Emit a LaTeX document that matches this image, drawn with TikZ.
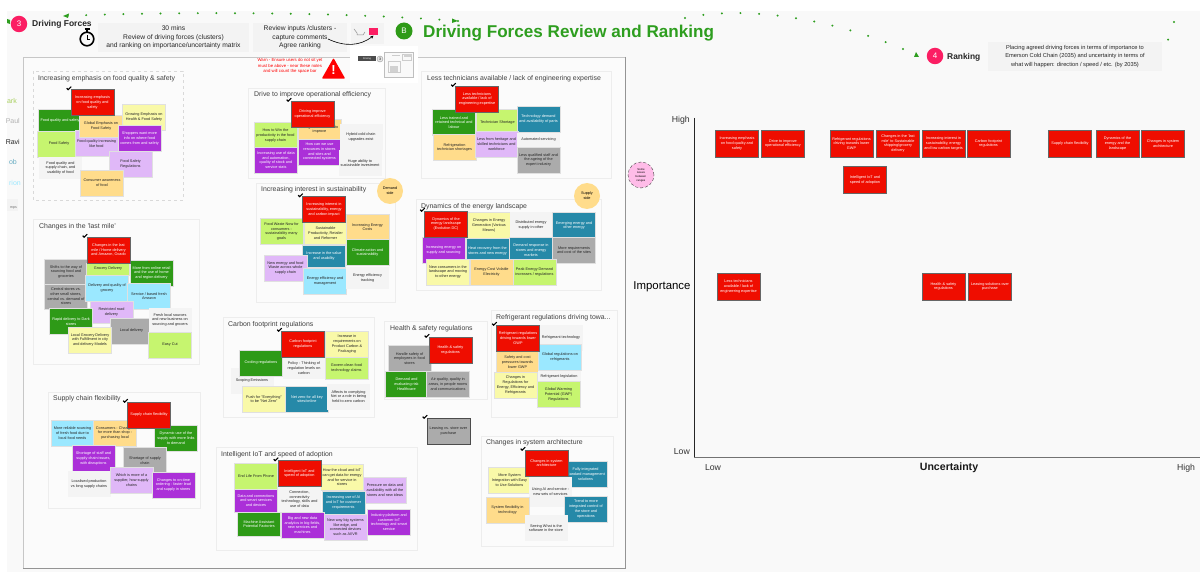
\documentclass[tikz,border=0pt]{standalone}
\usepackage{fontspec}
\setmainfont{Liberation Sans}
\usetikzlibrary{arrows.meta}
\newcommand{\notefont}{\fontsize{3.8}{4.7}\selectfont}
\newcommand{\titlefont}{\fontsize{6.9}{8}\selectfont}
\definecolor{canvas}{HTML}{F9F9F9}
\definecolor{boxgrey}{HTML}{F3F3F3}
\definecolor{mainGreen}{HTML}{2E9E1F}
\definecolor{mainPink}{HTML}{FB1E63}
\definecolor{cRed}{HTML}{EF0D00}
\definecolor{cGreen}{HTML}{2E9A17}
\definecolor{cLime}{HTML}{C6F56F}
\definecolor{cYellow}{HTML}{F9F9A8}
\definecolor{cOrange}{HTML}{FFDC8B}
\definecolor{cPurple}{HTML}{AB30D8}
\definecolor{cLav}{HTML}{E0B8F8}
\definecolor{cTeal}{HTML}{2689A8}
\definecolor{cCyan}{HTML}{9BE8FF}
\definecolor{cGrey}{HTML}{ABABAB}
\definecolor{cPale}{HTML}{F4F4F4}
\definecolor{cPink}{HTML}{FFBCE8}
\tikzset{
    note/.style={minimum width=43pt,minimum height=26pt,inner sep=1pt,text width=39pt,align=flush center,font=\notefont,draw=white!88!black,line width=.4pt,text=black!85},
    noteRed/.style={fill=cRed,text=white,draw=black!60,line width=.7pt},
    noteGreen/.style={fill=cGreen,text=white},
    noteLime/.style={fill=cLime},
    noteYellow/.style={fill=cYellow},
    noteOrange/.style={fill=cOrange},
    notePurple/.style={fill=cPurple,text=white},
    noteLav/.style={fill=cLav},
    noteTeal/.style={fill=cTeal,text=white},
    noteCyan/.style={fill=cCyan},
    noteGrey/.style={fill=cGrey},
    notePale/.style={fill=cPale,draw=none},
    clusterbox/.style={draw=black!7,fill=white!40!canvas,line width=.6pt},
    clustertitle/.style={anchor=west,inner sep=0pt,font=\titlefont,text=black!75},
    tick/.style={draw=black,line width=1.1pt},
    dotline/.style={draw=mainGreen,line width=2.2pt,line cap=round,dash pattern=on 0pt off 18.6pt},
    infobox/.style={fill=boxgrey,align=center,inner sep=0pt,font=\fontsize{6.7}{8.6}\selectfont,text=black!85},
    stepmark/.style={circle,fill=mainPink,text=white,inner sep=0pt,minimum size=16.5pt,font=\fontsize{8}{9}\selectfont},
    sidecircle/.style={circle,fill=cOrange,inner sep=0pt,minimum size=26pt,align=center,font=\fontsize{3.8}{5.2}\selectfont},
    person/.style={anchor=east,inner sep=0pt,font=\fontsize{7}{8}\selectfont},
    axislabel/.style={inner sep=0pt,font=\fontsize{8.7}{10}\selectfont,text=black!80}
}
\begin{document}
\begin{tikzpicture}[x=1pt,y=-1pt]
    \useasboundingbox (0,0) rectangle (1200,572);
    \fill[white] (0,0) rectangle (1200,572);
    \fill[canvas] (7,11) rectangle (1200,572);
    % main board
    \draw[draw=black!22,fill=white!30!canvas,line width=.8pt] (23,57) rectangle (625,568);
    \draw[draw=black!42,line width=.9pt] (625,57) -- (625,568) -- (23,568);
    % header
    \node[stepmark] (stepthree) at (19,24) {3};
    \node[anchor=west,inner sep=0pt,font=\fontsize{8.5}{10}\selectfont\bfseries,text=black!85] (forcesname) at (32,24) {Driving Forces};
    \node[infobox,minimum width=151pt,minimum height=29pt] (timebox) at (173.5,37.5) {30 mins\\Review of driving forces (clusters)\\and ranking on importance/uncertainty matrix};
    \node[infobox,minimum width=94pt,minimum height=29pt] (reviewbox) at (300,37.5) {Review inputs /clusters -\\capture comments\\Agree ranking};
    \node[fill=boxgrey,minimum width=33pt,minimum height=21pt,inner sep=0pt] (iconbox) at (367.5,33.5) {};
    \node[fill=mainPink,minimum width=9pt,minimum height=7pt,inner sep=0pt] (pinkflag) at (373.5,32) {};
    \draw[draw=black!45,line width=.5pt] (354,29) -- (357,33) -- (357,35) -- (363,35) -- (365,32);
    \coordinate (commentstart) at (328,39);
    \draw[-{Stealth[length=3pt,width=3pt]},line width=.6pt] (commentstart) .. controls (345,47) and (360,46) .. (pinkflag.south);
    \node[circle,fill=cGreen,text=white,inner sep=0pt,minimum size=17pt,font=\fontsize{8}{9}\selectfont] (stepb) at (404,31) {B};
    \node[anchor=west,inner sep=0pt,font=\fontsize{17.1}{19}\selectfont\bfseries,text=mainGreen] (bigtitle) at (423,33) {Driving Forces Review and Ranking};
    % stopwatch
    \draw[line width=1.6pt] (87,39) circle (6.8pt);
    \draw[line width=.9pt] (87,39) -- (87,35) (87,39) -- (90,39);
    \draw[line width=1.8pt] (84.5,29) -- (89.5,29) (87,29) -- (87,32);
    % dotted arcs
    \coordinate (arcright) at (458,21);
    \coordinate (arcleft) at (63,16);
    \coordinate (arcstart) at (685,18);
    \coordinate (rankstart) at (919,56);
    \draw[dotline] (arcright) .. controls (330,11) and (160,12) .. (arcleft);
    \draw[dotline] (arcstart) .. controls (740,6) and (830,15) .. (rankstart);
    \draw[dotline] (1174,22) -- (1168,40);
    \fill[mainGreen] (63,16) -- (69,13.5) -- (68,18) -- cycle;
    \fill[mainGreen] (458,21) -- (452,18.5) -- (452,23) -- cycle;
    \fill[mainGreen] (919,57) -- (914,57) -- (916,52) -- cycle;
    \fill[mainGreen] (7,19) -- (10,20) -- (10,24) -- (7,23) -- cycle;
    % warning
    \node[inner sep=0pt,align=center,text=red,font=\fontsize{4.3}{5.2}\selectfont] (warntext) at (290,66) {Warn - Ensure users do not sit yet\\must be above - near these notes\\and will count the space bar};
    \draw[fill=red,draw=red,line width=1.5pt,line join=round] (323,78) -- (344,78) -- (333.5,59.5) -- cycle;
    \node[inner sep=0pt,text=white,font=\fontsize{13}{14}\selectfont\bfseries] (warnmark) at (333.5,70.5) {!};
    % small board preview
    \fill[white] (350,46) rectangle (418,83);
    \node[fill=black!70,text=white,inner sep=0pt,minimum width=18pt,minimum height=5pt,font=\fontsize{2.5}{3}\selectfont] (previewtag) at (367,59) {Driving};
    \node[circle,draw=black!40,fill=black!10,inner sep=0pt,minimum size=6pt,font=\fontsize{3.5}{4}\selectfont] (previewnum) at (380,59) {3};
    \draw[draw=black!25,fill=canvas,line width=.4pt] (384,52) rectangle (413,77);
    \draw[draw=black!20,line width=.3pt] (388,61) rectangle (400,72) (402,54) rectangle (411,60) (392,55) -- (400,55);
    \fill[black!18] (390,66) rectangle (398,72);
    \fill[black!18] (404,54) rectangle (412,57);
    % people
    \node[person,text=cLime!85!black] (namea) at (17,101) {ark};
    \node[person,text=black!30] (nameb) at (20,121) {Paul};
    \node[person,text=black!85] (namec) at (20,142) {Ravi};
    \node[person,text=cTeal!70] (named) at (17,162) {ob};
    \node[person,text=cCyan] (namee) at (21,183) {rion};
    \fill[boxgrey] (7,199) rectangle (18,211);
    \node[person,text=black!60,font=\fontsize{3.5}{4}\selectfont] (namef) at (17,208) {mps};

    % food quality
    \draw[clusterbox,dashed,draw=black!15] (33,71) rectangle (183,200);
    \node[clustertitle] (foodtitle) at (38,79) {Increasing emphasis on food quality \& safety};
    \node[note,noteGreen,minimum height=22pt] (foodB) at (60,120.5) {Food quality and safety};
    \node[note,noteLime] (foodC) at (59,144) {Food Safety};
    \node[note,noteLav] (foodD) at (96.5,143.5) {Food quality increasing like food};
    \node[note,noteOrange,minimum height=22pt] (foodE) at (101,126) {Global Emphasis on Food Safety};
    \node[note,noteYellow] (foodF) at (144,117) {Growing Emphasis on Health \& Food Safety};
    \node[note,noteLav] (foodG) at (130.5,164) {Food Safety Regulations};
    \node[note,notePurple] (foodH) at (139.5,138.5) {Shoppers want more info on where food comes from and safety};
    \node[note,notePale,minimum height=22pt] (foodI) at (60.5,168) {Food quality and supply chain, and usability of food};
    \node[note,noteOrange] (foodJ) at (102,183) {Consumer awareness of food};
    \node[note,noteRed] (foodred) at (92.5,102.5) {Increasing emphasis on food quality and safety};

    % operational efficiency
    \draw[clusterbox] (248,88) rectangle (385,178);
    \node[clustertitle] (efftitle) at (254,95) {Drive to improve operational efficiency};
    \node[note,noteOrange,minimum height=20pt] (effB) at (319.5,129.5) {Using data from IoT to improve};
    \node[note,noteLime] (effC) at (275.5,135.5) {How to Win the productivity in the food supply chain};
    \node[note,notePurple] (effD) at (276,160) {Increasing use of data and automation, quality of stock and service stats};
    \node[note,notePurple] (effE) at (319.5,152) {How can we use resources in stores and sites and connected systems};
    \node[note,notePale] (effF) at (361,137) {Hybrid cold chain upgrades exist};
    \node[note,notePale] (effG) at (360,163) {Huge ability to sustainable investment};
    \node[note,noteRed] (effred) at (312.5,114) {Driving improve operational efficiency};

    % technicians
    \draw[clusterbox] (421,71) rectangle (611,178);
    \node[clustertitle] (techtitle) at (427,79) {Less technicians available / lack of engineering expertise};
    \node[note,noteGreen] (techB) at (454,122.5) {Less trained and retained technical and labour};
    \node[note,noteLime] (techC) at (497.5,122.5) {Technician Shortage};
    \node[note,noteTeal] (techD) at (538.5,119) {Technology demand and availability of parts};
    \node[note,noteOrange] (techE) at (454.5,147.5) {Refrigeration technician shortages};
    \node[note,noteLav] (techF) at (496.5,144) {Less from heritage and skilled technicians and workforce};
    \node[note,notePale,minimum height=14pt] (techG) at (538.5,140) {Automated servicing};
    \node[note,noteGrey] (techH) at (538.5,160) {Less qualified staff and the ageing of the expert industry};
    \node[note,noteRed] (techred) at (477,99) {Less technicians available / lack of engineering expertise};

    % sustainability
    \draw[clusterbox] (256,183) rectangle (395,302);
    \node[clustertitle] (sustaintitle) at (261,190) {Increasing interest in sustainability};
    \node[sidecircle] (demandside) at (390,191) {Demand\\side};
    \node[note,noteYellow,minimum height=22pt] (sustainB) at (325.5,233) {Sustainable Productivity, Retailer and Reformer};
    \node[note,noteLime] (sustainC) at (281.5,231.5) {Food Waste Now for consumers - sustainability many goals};
    \node[note,noteOrange] (sustainD) at (367.5,227) {Increasing Energy Costs};
    \node[note,noteGreen] (sustainE) at (367.5,252.5) {Climate action and sustainability};
    \node[note,noteTeal,minimum height=22pt] (sustainF) at (324,256) {Increase in the value and usability};
    \node[note,noteLav] (sustainG) at (285.5,268) {New energy and food Waste across whole supply chain};
    \node[note,noteCyan] (sustainH) at (325,281) {Energy efficiency and management};
    \node[note,notePale,minimum height=22pt] (sustainI) at (367.5,278) {Energy efficiency tracking};
    \node[note,noteRed] (sustainred) at (324,209.5) {Increasing interest in sustainability, energy and carbon impact};

    % energy landscape
    \draw[clusterbox] (416,199) rectangle (601,290);
    \node[clustertitle] (energytitle) at (421,207) {Dynamics of the energy landscape};
    \node[sidecircle] (supplyside) at (587,196) {Supply\\side};
    \node[note,noteYellow] (energyB) at (489,225.5) {Changes in Energy Generation (Various Means)};
    \node[note,notePale] (energyC) at (531,225) {Distributed energy supply in other};
    \node[note,noteTeal] (energyD) at (574,225.5) {Emerging energy and other energy};
    \node[note,notePurple] (energyE) at (443.5,250) {Increasing energy on supply and sourcing};
    \node[note,noteTeal] (energyF) at (487.5,251) {Heat recovery from the stores and new energy};
    \node[note,noteTeal] (energyG) at (531,250) {Demand response in stores and energy markets};
    \node[note,noteGrey] (energyH) at (574,250) {More requirements and cost of the sites};
    \node[note,noteYellow] (energyI) at (448,272) {New consumers in the landscape and moving to other energy};
    \node[note,noteOrange] (energyJ) at (491.5,272) {Energy Cost Volatile Electricity};
    \node[note,noteLime] (energyK) at (534.5,272) {Peak Energy Demand increases / regulations};
    \node[note,noteRed] (energyred) at (446,224) {Dynamics of the energy landscape (Evolution DC)};

    % carbon footprint
    \draw[clusterbox] (223,317) rectangle (374,417);
    \node[clustertitle] (carbontitle) at (228,325) {Carbon footprint regulations};
    \node[note,notePale] (carbonB) at (252,380.5) {Scoping Emissions};
    \node[note,noteYellow] (carbonC) at (347,344) {Increase in requirements on Product Carbon \& Packaging};
    \node[note,noteGreen] (carbonD) at (261,363) {Cooling regulations};
    \node[note,notePale,minimum height=22pt] (carbonE) at (304,368) {Policy - Thinking of regulation levels on carbon};
    \node[note,noteLime,minimum height=22pt] (carbonF) at (346.5,368) {Govern clean food technology claims};
    \node[note,noteYellow] (carbonG) at (264,399) {Push for "Everything" to be "Net Zero"};
    \node[note,noteTeal] (carbonH) at (307,399) {Net zero for all key sites/online};
    \node[note,notePale] (carbonI) at (348.5,396.5) {Affects to complying Net or a role in being held to zero carbon};
    \node[note,noteRed] (carbonred) at (303,344) {Carbon footprint regulations};

    % health and safety
    \draw[clusterbox] (384,321) rectangle (487,399);
    \node[clustertitle] (healthtitle) at (390,329) {Health \& safety regulations};
    \node[note,noteGrey] (healthB) at (409.5,358.5) {Handle safety of employees in food stores};
    \node[note,noteGreen] (healthC) at (406.5,384) {Demand and evaluating risk Healthcare};
    \node[note,noteGrey] (healthD) at (448,384) {Air quality, quality in areas, in people rooms and communications};
    \node[note,noteRed] (healthred) at (450.5,350) {Health \& safety regulations};

    % refrigerant
    \draw[clusterbox] (491,310) rectangle (617,417);
    \node[clustertitle] (refrtitle) at (496,318) {Refrigerant regulations driving towa...};
    \node[note,notePale] (refrB) at (561,338) {Refrigerant technology};
    \node[note,noteOrange,minimum height=22pt] (refrC) at (517.5,362) {Safety and cost pressures towards lower GWP};
    \node[note,noteCyan] (refrD) at (560,357) {Global regulations on refrigerants};
    \node[note,notePale,minimum height=12pt] (refrE) at (559,376.5) {Refrigerant legislation};
    \node[note,noteYellow] (refrF) at (515.5,385) {Changes in Regulations for Energy, Efficiency and Refrigerants};
    \node[note,noteLime] (refrG) at (558.5,394.5) {Global Warming Potential (GWP) Regulations};
    \node[note,noteRed] (refrred) at (518,338) {Refrigerant regulations driving towards lower GWP};

    % leasing
    \node[note,noteGrey,draw=black!70,line width=.6pt] (leasing) at (448.5,431) {Leasing vs. store over purchase};

    % IoT
    \draw[clusterbox] (216,447) rectangle (417,550);
    \node[clustertitle] (iottitle) at (221,455) {Intelligent IoT and speed of adoption};
    \node[note,noteLime] (iotB) at (256,476) {End Life From Phone};
    \node[note,noteYellow] (iotC) at (342,477.5) {How the cloud and IoT can get data for energy and for service in stores};
    \node[note,noteLav] (iotD) at (385,490) {Pressure on data and availability with all the stores and new ideas};
    \node[note,notePurple,minimum height=23pt] (iotE) at (256,500.5) {Data and connections and smart services and devices};
    \node[note,notePale] (iotF) at (299.5,499) {Connection, connectivity technology, skills and use of data};
    \node[note,noteTeal,minimum height=23pt] (iotG) at (343.5,502.5) {Increasing use of AI and IoT for customer requirements};
    \node[note,notePurple] (iotH) at (389,522) {Industry platform and customer IoT technology and smart service};
    \node[note,noteGreen,minimum height=24pt] (iotI) at (259,524) {Machine Assistant Potential Factories};
    \node[note,notePurple] (iotJ) at (302.5,525) {Big and new data analytics in big fields, new services and machines};
    \node[note,noteLav] (iotK) at (345.5,527) {New way big systems like edge, and connected devices such as AI/VR};
    \node[note,noteRed] (iotred) at (299.5,473.5) {Intelligent IoT and speed of adoption};

    % system architecture
    \draw[clusterbox] (481,436) rectangle (613,546);
    \node[clustertitle] (archtitle) at (486,443) {Changes in system architecture};
    \node[note,noteYellow] (archB) at (509.5,480) {More System Integration with Easy to Use Solutions};
    \node[note,noteTeal] (archC) at (585.5,474) {Fully integrated Standard management solutions};
    \node[note,notePale,minimum height=30pt] (archD) at (550.5,491.5) {Using AI and service - new sets of services};
    \node[note,noteOrange] (archE) at (507.5,510) {System flexibility in technology};
    \node[note,noteTeal] (archF) at (586,509) {Trend to more integrated control of the store and operations};
    \node[note,notePale] (archG) at (546,528) {Seeing What is the software in the store};
    \node[note,noteRed] (archred) at (546.5,463) {Changes in system architecture};

    % last mile
    \draw[clusterbox] (33,219) rectangle (199,364);
    \node[clustertitle] (miletitle) at (39,227) {Changes in the 'last mile'};
    \node[note,noteGrey,minimum height=25pt] (mileB) at (66,272) {Shifts to the way of sourcing food and groceries};
    \node[note,noteGrey,minimum height=25pt] (mileC) at (66,296.5) {Central stores vs. other small stores, central vs. demand of stores};
    \node[note,noteGreen] (mileD) at (151.5,273) {More from online retail and the use of home and region delivery};
    \node[note,noteLime,minimum height=12pt] (mileE) at (108,269) {Grocery Delivery};
    \node[note,noteCyan] (mileF) at (107,288) {Delivery and quality of grocery};
    \node[note,noteCyan] (mileG) at (149,296) {Service / based fresh Amazon};
    \node[note,noteLav,minimum height=22pt] (mileH) at (111.5,312) {Restricted road delivery};
    \node[note,noteGreen] (mileI) at (71,321.5) {Rapid delivery to Dark stores};
    \node[note,noteGrey] (mileK) at (131.5,331) {Local delivery};
    \node[note,noteYellow] (mileJ) at (90,340) {Local Grocery Delivery with Fulfillment in city and delivery Models};
    \node[note,notePale,minimum height=24pt] (mileL) at (170,320) {Fresh local sources and new business on sourcing and grocers};
    \node[note,noteLime] (mileM) at (170,345) {Easy Cut};
    \node[note,noteRed] (milered) at (108.5,250) {Changes in the last mile / Home delivery and Amazon, Ocado};

    % supply chain
    \draw[clusterbox] (48,392) rectangle (200,508);
    \node[clustertitle] (supplytitle) at (53,399) {Supply chain flexibility};
    \node[note,noteCyan] (supplyB) at (72.5,433) {More reliable sourcing of fresh food due to local food needs};
    \node[note,noteOrange] (supplyC) at (115,433) {Consumers - Changes for more than shop - purchasing local};
    \node[note,noteGreen] (supplyD) at (176,438) {Dynamic use of the supply with more links to demand};
    \node[note,notePurple] (supplyE) at (93.5,458.5) {Shortage of staff and supply chain issues, with disruptions};
    \node[note,noteGrey] (supplyF) at (145,460.5) {Shortage of supply chain};
    \node[note,notePale] (supplyG) at (89,484) {Localised production vs long supply chains};
    \node[note,noteLav] (supplyH) at (131.5,480) {Which is more of a supplier, how supply chains};
    \node[note,notePurple] (supplyI) at (173.5,485) {Changes to on-time ordering - faster lead and supply in stores};
    \node[note,noteRed] (supplyred) at (149,415) {Supply chain flexibility};

    % ticks on the voted notes
    \foreach \tickname in {foodred,effred,techred,sustainred,energyred,carbonred,healthred,refrred,leasing,iotred,archred,milered,supplyred}
        \draw[tick] (\tickname.north west) ++(-4,-1) -- ++(1.5,1.5) -- ++(3,-3);

    % ranking header
    \node[stepmark] (stepfour) at (935,56) {4};
    \node[anchor=west,inner sep=0pt,font=\fontsize{8.4}{10}\selectfont\bfseries,text=black!85] (rankname) at (947,57) {Ranking};
    \node[infobox,font=\fontsize{5.7}{8.2}\selectfont,minimum width=174pt,minimum height=29pt] (rankbox) at (1075,56.5) {Placing agreed driving forces in terms of importance to\\Emerson Cold Chain (2035) and uncertainty in terms of\\what will happen: direction / speed / etc. (by 2035)};
    \node[circle,fill=cPink,draw=black!75,densely dashed,line width=.4pt,inner sep=0pt,minimum size=26pt,align=center,font=\fontsize{2.8}{3.6}\selectfont] (pinkdot) at (641,175) {Some\\issues\\between\\ranges};

    % matrix
    \coordinate (origin) at (694,457);
    \coordinate (axistop) at (694,118);
    \coordinate (axisend) at (1200,457);
    \draw[line width=1pt,draw=black!85] (axistop) -- (origin);
    \draw[line width=1pt,draw=black!55] (origin) -- (axisend);
    \node[axislabel,anchor=east] (highy) at (690,120.5) {High};
    \node[axislabel,anchor=east] (lowy) at (690,452) {Low};
    \node[axislabel,font=\fontsize{11.4}{13}\selectfont,text=black] (importance) at (662,287) {Importance};
    \node[axislabel] (lowx) at (713,468) {Low};
    \node[axislabel,font=\fontsize{10.6}{12}\selectfont\bfseries,text=black!90] (uncertainty) at (949,468) {Uncertainty};
    \node[axislabel] (highx) at (1186,468) {High};

    \node[note,noteRed,minimum height=27pt] (rankA) at (737,143.5) {Increasing emphasis on food quality and safety};
    \node[note,noteRed,minimum height=27pt] (rankB) at (783,143.5) {Drive to improve operational efficiency};
    \node[note,noteRed,minimum height=27pt] (rankC) at (851.5,143.5) {Refrigerant regulations driving towards lower GWP};
    \node[note,noteRed,minimum height=27pt] (rankD) at (898,143.5) {Changes in the 'last mile' to Sustainable shipping/grocery delivery};
    \node[note,noteRed,minimum height=27pt] (rankE) at (943.5,143.5) {Increasing interest in sustainability, energy and low carbon targets};
    \node[note,noteRed,minimum height=27pt] (rankF) at (988.5,143.5) {Carbon footprint regulations};
    \node[note,noteRed,minimum height=27pt] (rankG) at (1070,143.5) {Supply chain flexibility};
    \node[note,noteRed,minimum height=27pt] (rankH) at (1117.5,143.5) {Dynamics of the energy and the landscape};
    \node[note,noteRed,minimum height=27pt] (rankI) at (1163,143.5) {Changes in system architecture};
    \node[note,noteRed,minimum height=27pt] (rankJ) at (865,180) {Intelligent IoT and speed of adoption};
    \node[note,noteRed,minimum height=27pt] (rankK) at (738.5,286.5) {Less technicians available / lack of engineering expertise};
    \node[note,noteRed,minimum height=27pt] (rankL) at (943.5,286.5) {Health \& safety regulations};
    \node[note,noteRed,minimum height=27pt] (rankM) at (990,286.5) {Leasing solutions over purchase};
\end{tikzpicture}
\end{document}
